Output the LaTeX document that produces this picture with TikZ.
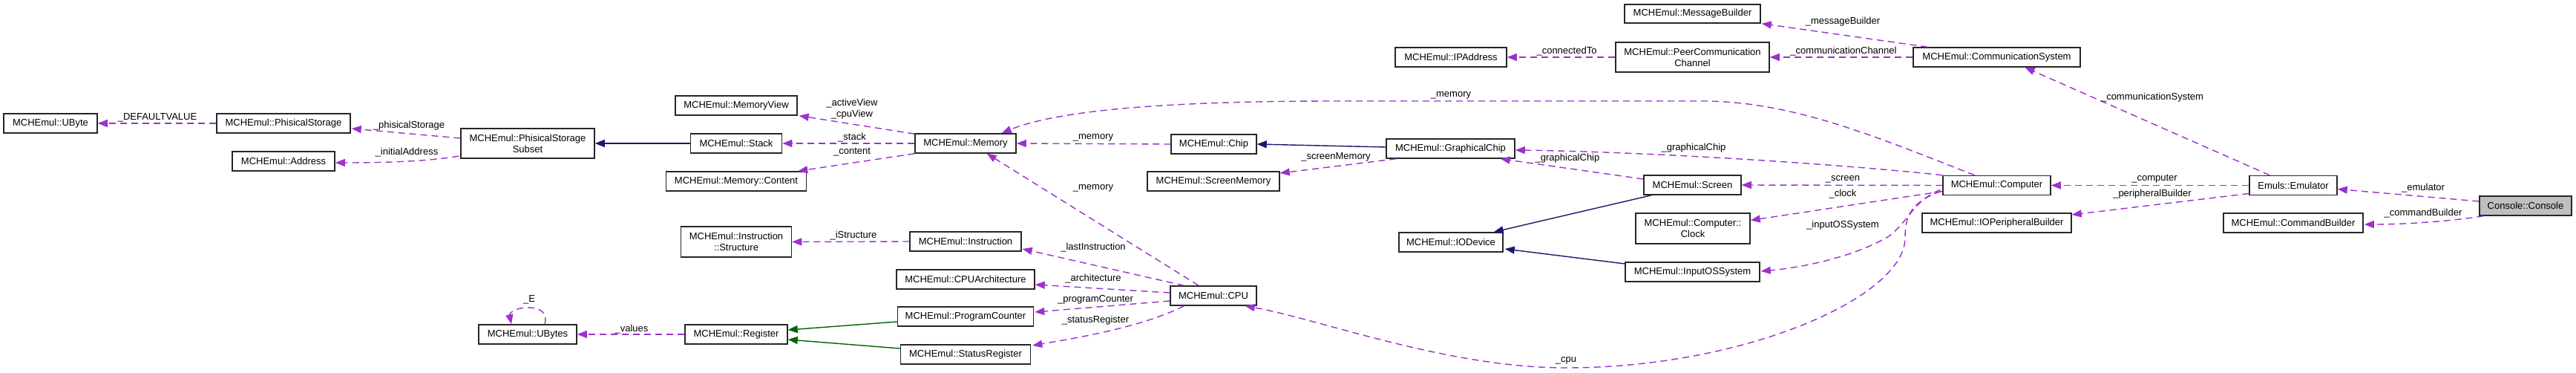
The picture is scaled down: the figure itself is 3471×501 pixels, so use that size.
\documentclass[tikz,border=0pt]{standalone}
\usepackage{fontspec}
\setmainfont{Liberation Sans}
\usetikzlibrary{arrows.meta,calc}
\definecolor{usecol}{HTML}{9A32CD}
\definecolor{inhblue}{HTML}{191970}
\definecolor{inhgreen}{HTML}{006400}
\definecolor{selgray}{HTML}{BFBFBF}
\begin{document}
\begin{tikzpicture}[x=1pt,y=-1pt,
  cls/.style={draw=black!85, line width=1.5pt, fill=white, minimum height=26pt, inner sep=0pt, align=center, font=\fontsize{13}{15}\selectfont},
  cls2/.style={cls, minimum height=41pt},
  use/.style={draw=usecol, line width=1.4pt, dash pattern=on 9pt off 6pt, -{Triangle[length=13pt,width=10pt,fill=usecol]}},
  inh/.style={draw=inhblue, line width=1.4pt, -{Triangle[length=13pt,width=10pt,fill=inhblue]}},
  prot/.style={draw=inhgreen, line width=1.4pt, -{Triangle[length=13pt,width=10pt,fill=inhgreen]}},
  lbl/.style={font=\fontsize{13}{15}\selectfont, inner sep=0pt, align=center}]
\fill[white] (0,0) rectangle (3471,501);
\useasboundingbox (0,0) rectangle (3471,501);

% classes
\node[cls, minimum width=126] (ubyte) at (68,166) {MCHEmul::UByte};
\node[cls, minimum width=180] (pstore) at (382,166) {MCHEmul::PhisicalStorage};
\node[cls, minimum width=138] (addr) at (382,217) {MCHEmul::Address};
\node[cls2, minimum width=180, minimum height=40] (pss) at (711,193) {MCHEmul::PhisicalStorage\\Subset};
\node[cls, minimum width=132] (ubytes) at (711,450) {MCHEmul::UBytes};
\node[cls, minimum width=164] (mview) at (992,142) {MCHEmul::MemoryView};
\node[cls, minimum width=123] (stack) at (992,193) {MCHEmul::Stack};
\node[cls, minimum width=189] (content) at (992,244) {MCHEmul::Memory::Content};
\node[cls2, minimum width=149] (istruct) at (992,325.5) {MCHEmul::Instruction\\::Structure};
\node[cls, minimum width=138] (register) at (992,450) {MCHEmul::Register};
\node[cls, minimum width=136] (memory) at (1301,193) {MCHEmul::Memory};
\node[cls, minimum width=150] (instr) at (1301,325) {MCHEmul::Instruction};
\node[cls, minimum width=186] (cpuarch) at (1301,376) {MCHEmul::CPUArchitecture};
\node[cls, minimum width=183] (pc) at (1301,426) {MCHEmul::ProgramCounter};
\node[cls, minimum width=175] (sr) at (1301,477) {MCHEmul::StatusRegister};
\node[cls, minimum width=115] (chip) at (1635.5,194) {MCHEmul::Chip};
\node[cls, minimum width=178] (smem) at (1635,244) {MCHEmul::ScreenMemory};
\node[cls, minimum width=116] (cpu) at (1635,398) {MCHEmul::CPU};
\node[cls, minimum width=173] (gchip) at (1954.5,200) {MCHEmul::GraphicalChip};
\node[cls, minimum width=140] (iodev) at (1955,326) {MCHEmul::IODevice};
\node[cls, minimum width=150] (ipaddr) at (1955,77) {MCHEmul::IPAddress};
\node[cls, minimum width=131] (screen) at (2280.5,249) {MCHEmul::Screen};
\node[cls2, minimum width=154] (clock) at (2281,307.5) {MCHEmul::Computer::\\Clock};
\node[cls, minimum width=181] (inos) at (2280.5,366) {MCHEmul::InputOSSystem};
\node[cls, minimum width=183, minimum height=25] (msgb) at (2280.5,18.5) {MCHEmul::MessageBuilder};
\node[cls2, minimum width=207, minimum height=40] (pcc) at (2280.5,77) {MCHEmul::PeerCommunication\\Channel};
\node[cls, minimum width=145] (computer) at (2690.5,249.5) {MCHEmul::Computer};
\node[cls, minimum width=201] (iopb) at (2690.5,300) {MCHEmul::IOPeripheralBuilder};
\node[cls, minimum width=225] (commsys) at (2690.5,77) {MCHEmul::CommunicationSystem};
\node[cls, minimum width=118] (emulator) at (3090,249.5) {Emuls::Emulator};
\node[cls, minimum width=188] (cmdb) at (3090,300) {MCHEmul::CommandBuilder};
\node[cls, minimum width=124, fill=selgray] (console) at (3403,277) {Console::Console};

% edges
\draw[use] (pstore.west) -- (ubyte.east);
\draw[use] ($(pss.west)+(0,-7)$) -- ($(pstore.east)+(1,7)$);
\draw[use] ($(pss.west)+(-2,17)$) .. controls (580,217) and (520,219) .. ($(addr.east)+(0,2)$);
\draw[inh] (stack.west) -- (pss.east);
\draw[use] ($(ubytes.north)+(23,0)$) .. controls (738,422) and (730,414) .. (711,414) .. controls (694,414) and (686,422) .. ($(ubytes.north)+(-22,0)$);
\draw[use] (register.west) -- (ubytes.east);
\draw[prot] ($(pc.west)+(0,7)$) -- ($(register.east)+(0,-6)$);
\draw[prot] ($(sr.west)+(0,-8)$) -- ($(register.east)+(0,7)$);
\draw[use] ($(memory.north west)+(0,1)$) -- ($(mview.south east)+(2,0)$);
\draw[use] (memory.west) -- (stack.east);
\draw[use] (memory.south west) -- ($(content.north east)+(-12,0)$);
\draw[use] (chip.west) -- (memory.east);
\draw[inh] ($(gchip.west)+(0,-2)$) -- (chip.east);
\draw[use] ($(gchip.south west)+(14,0)$) -- ($(smem.east)+(0,-11)$);
\draw[use] ($(cpu.north)+(-20,0)$) -- ($(memory.south east)+(-40,0)$);
\draw[use] ($(computer.north)+(-30,0)$) .. controls (2530,185) and (2420,138) .. (2300,136) -- (1800,136) .. controls (1560,136) and (1420,150) .. ($(memory.north east)+(-20,0)$);
\draw[use] (instr.west) -- (istruct.east);
\draw[use] ($(cpu.north west)+(19,0)$) -- ($(instr.east)+(1,10)$);
\draw[use] ($(cpu.west)+(0,-4)$) -- ($(cpuarch.east)+(0,7)$);
\draw[use] ($(cpu.west)+(0,7)$) -- ($(pc.east)+(1,-6)$);
\draw[use] ($(cpu.south west)+(19,0)$) .. controls (1540,440) and (1450,455) .. ($(sr.east)+(2,-12)$);
\draw[use] ($(computer.west)+(-2,8)$) .. controls (2575,272) and (2567,290) .. (2567,320) .. controls (2567,400) and (2350,495) .. (2110,495) .. controls (1950,495) and (1780,430) .. ($(cpu.south east)+(-16,0)$);
\draw[use] (computer.north west) .. controls (2450,218) and (2200,204) .. ($(gchip.east)+(0,2)$);
\draw[use] ($(screen.west)+(0,-8)$) -- ($(gchip.south east)+(-20,0)$);
\draw[inh] ($(screen.south west)+(11,0)$) -- ($(iodev.north east)+(-13,0)$);
\draw[inh] ($(inos.west)+(0,-11)$) -- ($(iodev.east)+(2,9)$);
\draw[use] (computer.west) -- (screen.east);
\draw[use] ($(computer.west)+(0,8)$) -- ($(clock.east)+(0,-11)$);
\draw[use] ($(computer.west)+(-3,6)$) .. controls (2578,270) and (2572,298) .. (2545,318) .. controls (2500,345) and (2430,360) .. ($(inos.east)+(1,-1)$);
\draw[use] (emulator.west) -- (computer.east);
\draw[use] ($(emulator.west)+(0,11)$) -- ($(iopb.east)+(0,-11)$);
\draw[use] ($(emulator.north)+(-32,0)$) -- ($(commsys.south)+(38,0)$);
\draw[use] (commsys.west) -- (pcc.east);
\draw[use] ($(commsys.north west)+(20,0)$) -- ($(msgb.south east)+(1,0)$);
\draw[use] (pcc.west) -- (ipaddr.east);
\draw[use] ($(console.west)+(0,-6)$) -- ($(emulator.east)+(0,5)$);
\draw[use] ($(console.south west)+(6,0)$) .. controls (3300,298) and (3240,302) .. ($(cmdb.east)+(1,2)$);

% labels
\node[lbl] (lDef) at (212,158) {\_DEFAULTVALUE};
\node[lbl] (lPhys) at (551,169) {\_phisicalStorage};
\node[lbl] (lInit) at (548,205) {\_initialAddress};
\node[lbl] (lE) at (713,403) {\_E};
\node[lbl] (lVal) at (851,443) {\_values};
\node[lbl] (lAct) at (1148,146.5) {\_activeView\\\_cpuView};
\node[lbl] (lStack) at (1148,185) {\_stack};
\node[lbl] (lCont) at (1148,205) {\_content};
\node[lbl] (lMem1) at (1473,185) {\_memory};
\node[lbl] (lMem2) at (1473,253) {\_memory};
\node[lbl] (lMem3) at (1955,128) {\_memory};
\node[lbl] (lIS) at (1150,317) {\_iStructure};
\node[lbl] (lLast) at (1473,333) {\_lastInstruction};
\node[lbl] (lArch) at (1473,375) {\_architecture};
\node[lbl] (lPC) at (1476,403) {\_programCounter};
\node[lbl] (lSR) at (1476,431) {\_statusRegister};
\node[lbl] (lSM) at (1800,211) {\_screenMemory};
\node[lbl] (lGC1) at (2282,199) {\_graphicalChip};
\node[lbl] (lGC2) at (2112,213) {\_graphicalChip};
\node[lbl] (lScr) at (2483,241) {\_screen};
\node[lbl] (lClk) at (2483,261) {\_clock};
\node[lbl] (lInOS) at (2483,303) {\_inputOSSystem};
\node[lbl] (lCpu) at (2110,485) {\_cpu};
\node[lbl] (lMB) at (2483,29) {\_messageBuilder};
\node[lbl] (lCT) at (2111,69) {\_connectedTo};
\node[lbl] (lCC) at (2484,69) {\_communicationChannel};
\node[lbl] (lCS) at (2900,131) {\_communicationSystem};
\node[lbl] (lComp) at (2903,241) {\_computer};
\node[lbl] (lPB) at (2900,261) {\_peripheralBuilder};
\node[lbl] (lEmu) at (3265,253) {\_emulator};
\node[lbl] (lCB) at (3265,287) {\_commandBuilder};
\end{tikzpicture}
\end{document}
